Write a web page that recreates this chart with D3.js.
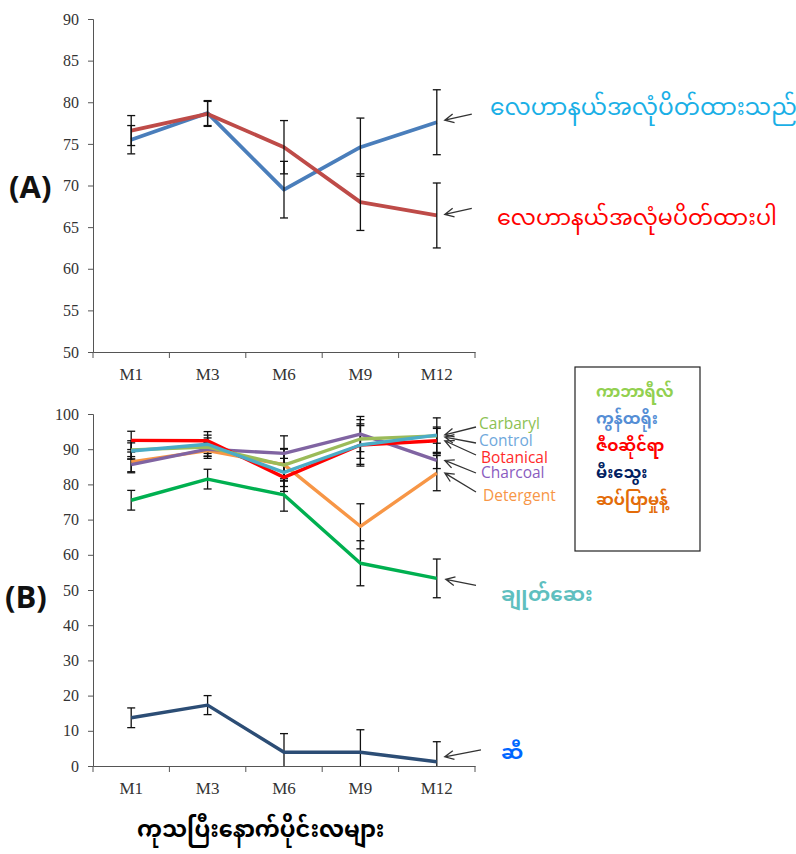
<!DOCTYPE html>
<html>
<head>
<meta charset="utf-8">
<script src="https://cdn.jsdelivr.net/npm/d3@7"></script>
<style>
  body { margin: 0; background: #fff; }
  svg { display: block; }
  .my { font-family: "Noto Sans Myanmar", "Padauk", "Myanmar Text", "Noto Sans", sans-serif; }
</style>
</head>
<body>
<svg width="796" height="854"></svg>
<script>
var svg = d3.select("svg");

var months = ["M1", "M3", "M6", "M9", "M12"];

// panel A : vacuum sealed vs not sealed
var sealedA = [75.5, 78.7, 69.5, 74.6, 77.6];
var sealedErrA = [1.7, 1.5, 3.4, 3.5, 3.9];
var openA = [76.6, 78.6, 74.6, 68.0, 66.4];
var openErrA = [1.8, 1.5, 3.2, 3.4, 3.9];
var ticksA = [50, 55, 60, 65, 70, 75, 80, 85, 90];

// panel B : treatments
var carbaryl = [89.8, 90.6, 85.5, 92.9, 93.8];
var carbarylErr = [2.6, 2.6, 4.5, 5.5, 5.1];
var control = [89.5, 91.4, 83.4, 91.2, 94.0];
var controlErr = [2.3, 2.6, 4.0, 5.5, 2.3];
var botanical = [92.5, 92.4, 82.0, 91.2, 92.4];
var botanicalErr = [2.6, 2.6, 4.0, 6.0, 3.5];
var charcoal = [85.6, 90.0, 88.8, 94.3, 86.8];
var charcoalErr = [2.3, 2.0, 5.0, 5.0, 2.3];
var detergent = [86.4, 89.6, 85.6, 68.1, 83.2];
var detergentErr = [2.8, 2.2, 4.6, 6.4, 5.0];
var pesticide = [75.5, 81.5, 77.0, 57.6, 53.3];
var pesticideErr = [2.8, 2.8, 4.6, 6.4, 5.5];
var oil = [13.7, 17.3, 3.9, 3.9, 1.2];
var oilErr = [2.8, 2.7, 5.3, 6.4, 5.7];
var ticksB = [0, 10, 20, 30, 40, 50, 60, 70, 80, 90, 100];

var legendNames = ["ကာဘာရီလ်", "ကွန်ထရိုး", "ဇီဝဆိုင်ရာ", "မီးသွေး", "ဆပ်ပြာမှုန့်"];
var legendColors = ["#92D050", "#558ED5", "#FF0000", "#002060", "#E36C09"];

var x = d3.scaleBand().domain(months).range([93, 475]);

function drawAxes(g, y, ticks, y0) {
  var ay = g.append("g")
    .attr("transform", "translate(93,0)")
    .call(d3.axisLeft(y).tickValues(ticks).tickSize(5).tickPadding(9));
  ay.selectAll("path, line").attr("stroke", "#555");
  ay.attr("font-family", "'Liberation Serif', 'Times New Roman', serif").attr("font-size", 16);
  ay.selectAll("text").attr("fill", "#333");

  var ax = g.append("g")
    .attr("transform", "translate(0," + y0 + ")")
    .call(d3.axisBottom(x).tickSize(0).tickPadding(16).tickSizeOuter(0));
  ax.select("path").attr("stroke", "#555");
  ax.attr("font-family", "'Liberation Serif', 'Times New Roman', serif").attr("font-size", 17);
  ax.selectAll("text").attr("fill", "#333");
  // tick marks at category boundaries
  ax.selectAll(".bound")
    .data(months.map(function(m) { return x(m); }).concat([x.range()[1]]))
    .enter().append("line")
      .attr("class", "bound")
      .attr("x1", function(d) { return d; })
      .attr("x2", function(d) { return d; })
      .attr("y1", 0).attr("y2", 6)
      .attr("stroke", "#555");
}

function cx(i) { return x(months[i]) + x.bandwidth() / 2; }

function drawSeries(g, y, vals, color, w) {
  var line = d3.line()
    .x(function(d, i) { return cx(i); })
    .y(function(d) { return y(d); });
  g.append("path")
    .datum(vals)
    .attr("d", line)
    .attr("fill", "none")
    .attr("stroke", color)
    .attr("stroke-width", w)
    .attr("stroke-linejoin", "round");
}

function drawErrors(g, y, vals, errs, lo) {
  vals.forEach(function(v, i) {
    var top = v + errs[i], bot = Math.max(lo, v - errs[i]);
    var xx = cx(i);
    g.append("line").attr("x1", xx).attr("x2", xx)
      .attr("y1", y(top)).attr("y2", y(bot))
      .attr("stroke", "#111").attr("stroke-width", 1.3);
    [top, bot].forEach(function(t) {
      if (t === lo && v - errs[i] < lo) return;
      g.append("line").attr("x1", xx - 4).attr("x2", xx + 4)
        .attr("y1", y(t)).attr("y2", y(t))
        .attr("stroke", "#111").attr("stroke-width", 1.3);
    });
  });
}

function arrow(g, x1, y1, x2, y2) {
  // from tail (x1,y1) to tip (x2,y2)
  var ang = Math.atan2(y1 - y2, x1 - x2);
  var len = 10;
  g.append("path")
    .attr("d", "M" + x1 + "," + y1 + "L" + x2 + "," + y2 +
      "M" + (x2 + len * Math.cos(ang - 0.45)) + "," + (y2 + len * Math.sin(ang - 0.45)) +
      "L" + x2 + "," + y2 +
      "L" + (x2 + len * Math.cos(ang + 0.45)) + "," + (y2 + len * Math.sin(ang + 0.45)))
    .attr("fill", "none")
    .attr("stroke", "#333")
    .attr("stroke-width", 1.3);
}

// ---------- panel A ----------
var yA = d3.scaleLinear().domain([50, 90]).range([352, 19]);
var gA = svg.append("g");
drawAxes(gA, yA, ticksA, 352);
drawSeries(gA, yA, sealedA, "#4A7EBB", 3.8);
drawSeries(gA, yA, openA, "#BE4B48", 3.8);
drawErrors(gA, yA, sealedA, sealedErrA, 50);
drawErrors(gA, yA, openA, openErrA, 50);

var lastX = cx(4);
arrow(gA, lastX + 35, yA(sealedA[4]) - 8, lastX + 8, yA(sealedA[4]) - 2);
arrow(gA, lastX + 35, yA(openA[4]) - 7, lastX + 8, yA(openA[4]) - 1);

gA.append("text").attr("class", "my")
  .attr("x", 490).attr("y", 115)
  .attr("fill", "#1AAFE6").style("font-size", "23.3px")
  .text("လေဟာနယ်အလုံပိတ်ထားသည်");
gA.append("text").attr("class", "my")
  .attr("x", 497).attr("y", 225)
  .attr("fill", "#FF0000").style("font-size", "22.3px")
  .text("လေဟာနယ်အလုံမပိတ်ထားပါ");

svg.append("text")
  .attr("x", 9).attr("y", 198)
  .style("font-family", "'Open Sans', sans-serif")
  .style("font-weight", "bold").style("font-size", "31px")
  .attr("fill", "#111")
  .text("(A)");

// ---------- panel B ----------
var yB = d3.scaleLinear().domain([0, 100]).range([766, 414]);
var gB = svg.append("g");
drawAxes(gB, yB, ticksB, 766);

var seriesB = [
  { v: pesticide, e: pesticideErr, c: "#00B050" },
  { v: oil, e: oilErr, c: "#2C4D75" },
  { v: detergent, e: detergentErr, c: "#F79646" },
  { v: charcoal, e: charcoalErr, c: "#8064A2" },
  { v: botanical, e: botanicalErr, c: "#FF0000" },
  { v: carbaryl, e: carbarylErr, c: "#9BBB59" },
  { v: control, e: controlErr, c: "#4BACC6" }
];
seriesB.forEach(function(s) {
  drawErrors(gB, yB, s.v, s.e, 0);
});
seriesB.forEach(function(s) {
  drawSeries(gB, yB, s.v, s.c, 3.4);
});

// english labels on right of panel B
var enLabels = [
  { t: "Carbaryl", c: "#8CC152", x: 479, y: 429, v: carbaryl[4] },
  { t: "Control", c: "#6FA8DC", x: 479, y: 446, v: control[4] },
  { t: "Botanical", c: "#FF2A2A", x: 481, y: 463, v: botanical[4] },
  { t: "Charcoal", c: "#8A5CC0", x: 481, y: 478, v: charcoal[4] },
  { t: "Detergent", c: "#F79646", x: 483, y: 501, v: detergent[4] }
];
var tails = [427, 443, 455, 473, 492];
enLabels.forEach(function(d, i) {
  arrow(gB, 476, tails[i], lastX + 8, yB(d.v) + (i === 1 ? 2 : 0) - (i === 0 ? 1 : 0));
  gB.append("text")
    .attr("x", d.x).attr("y", d.y)
    .attr("fill", d.c)
    .style("font-family", "'Open Sans', sans-serif")
    .style("font-size", "15.5px")
    .text(d.t);
});

arrow(gB, 476, yB(pesticide[4]) + 7, lastX + 9, yB(pesticide[4]) + 1);
arrow(gB, 481, yB(oil[4]) - 12, lastX + 8, yB(oil[4]) - 5);

gB.append("text").attr("class", "my")
  .attr("x", 501).attr("y", 601)
  .attr("fill", "#5FBFBF").style("font-size", "20px").style("font-weight", "bold")
  .text("ချုတ်ဆေး");
gB.append("text").attr("class", "my")
  .attr("x", 501).attr("y", 759)
  .attr("fill", "#0066FF").style("font-size", "20px").style("font-weight", "bold")
  .text("ဆီ");

svg.append("text")
  .attr("x", 5).attr("y", 608)
  .style("font-family", "'Open Sans', sans-serif")
  .style("font-weight", "bold").style("font-size", "31px")
  .attr("fill", "#111")
  .text("(B)");

// legend box
var lg = svg.append("g").attr("transform", "translate(575,367)");
lg.append("rect")
  .attr("width", 125).attr("height", 184)
  .attr("fill", "#fff").attr("stroke", "#222").attr("stroke-width", 1.2);
lg.selectAll("text.lg")
  .data(legendNames)
  .enter().append("text")
    .attr("class", "my lg")
    .attr("x", 21)
    .attr("y", function(d, i) { return 30 + i * 27; })
    .attr("fill", function(d, i) { return legendColors[i]; })
    .style("font-size", "16px").style("font-weight", "bold")
    .text(function(d) { return d; });

// x axis title
svg.append("text").attr("class", "my")
  .attr("x", 137).attr("y", 837)
  .attr("fill", "#000").style("font-size", "22.5px").style("font-weight", "bold")
  .text("ကုသပြီးနောက်ပိုင်းလများ");
</script>
</body>
</html>
